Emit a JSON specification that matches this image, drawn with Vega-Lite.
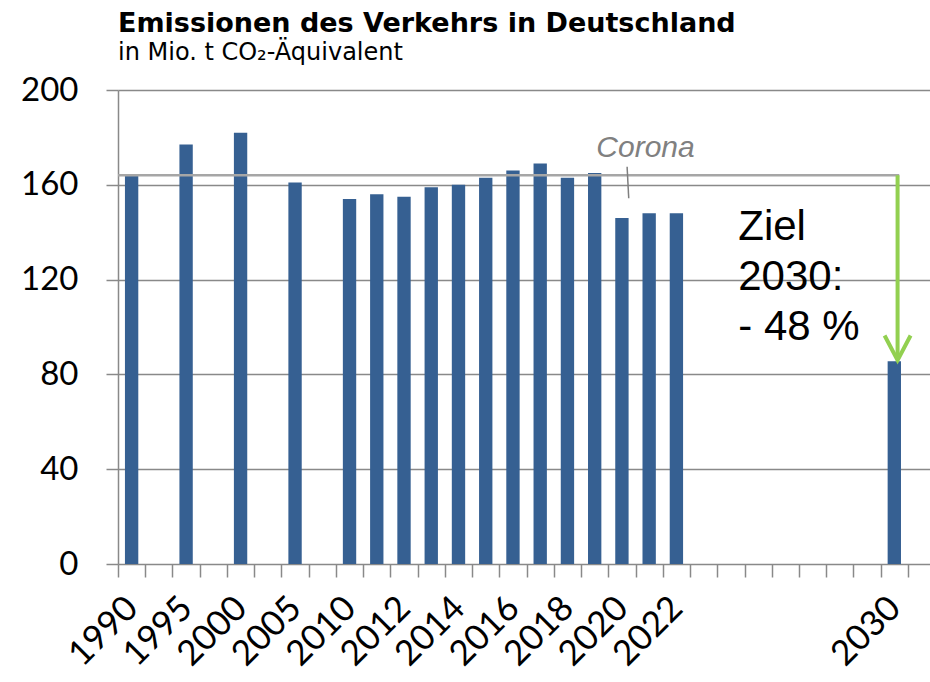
{
  "$schema": "https://vega.github.io/schema/vega-lite/v6.json",
  "width": 812,
  "height": 474,
  "autosize": "none",
  "padding": {"left": 118, "top": 90, "right": 0, "bottom": 118},
  "background": "white",
  "title": {
    "text": "Emissionen des Verkehrs in Deutschland",
    "subtitle": "in Mio. t CO₂-Äquivalent",
    "anchor": "start",
    "frame": "group",
    "font": "DejaVu Sans",
    "fontSize": 27,
    "fontWeight": "bold",
    "color": "black",
    "subtitleFont": "DejaVu Sans",
    "subtitleFontSize": 24,
    "subtitleColor": "black",
    "subtitlePadding": 3,
    "offset": 8
  },
  "config": {"view": {"stroke": null}},
  "data": {
    "values": [
      {"year": "1990", "value": 164},
      {"year": "1995", "value": 177},
      {"year": "2000", "value": 182},
      {"year": "2005", "value": 161},
      {"year": "2010", "value": 154},
      {"year": "2011", "value": 156},
      {"year": "2012", "value": 155},
      {"year": "2013", "value": 159},
      {"year": "2014", "value": 160},
      {"year": "2015", "value": 163},
      {"year": "2016", "value": 166},
      {"year": "2017", "value": 169},
      {"year": "2018", "value": 163},
      {"year": "2019", "value": 165},
      {"year": "2020", "value": 146},
      {"year": "2021", "value": 148},
      {"year": "2022", "value": 148},
      {"year": "2030", "value": 85.5}
    ]
  },
  "layer": [
    {
      "mark": {"type": "bar", "color": "#366092", "width": {"band": 0.49}},
      "encoding": {
        "x": {
          "field": "year",
          "type": "ordinal",
          "scale": {
            "domain": ["1990","1991","1995","1996","2000","2001","2005","2006","2010","2011","2012","2013","2014","2015","2016","2017","2018","2019","2020","2021","2022","2023","2024","2025","2026","2027","2028","2029","2030"],
            "paddingInner": 0,
            "paddingOuter": 0.405,
            "align": 0
          },
          "axis": {
            "title": null,
            "domain": false,
            "grid": false,
            "tickBand": "extent",
            "ticks": true,
            "tickSize": 13,
            "tickColor": "#898989",
            "tickWidth": 1.5,
            "labelAngle": -45,
            "labelAlign": "right",
            "labelBaseline": "middle",
            "labelPadding": 25,
            "labelFont": "Lato",
            "labelFontSize": 35,
            "labelColor": "black",
            "labelOverlap": false,
            "labelBound": false,
            "labelExpr": "indexof(['1990','1995','2000','2005','2010','2012','2014','2016','2018','2020','2022','2030'], datum.label) >= 0 ? datum.label : ''"
          }
        },
        "y": {
          "field": "value",
          "type": "quantitative",
          "scale": {"domain": [0, 200]},
          "axis": {
            "title": null,
            "values": [0, 40, 80, 120, 160, 200],
            "grid": true,
            "gridColor": "#898989",
            "gridWidth": 1.5,
            "domainColor": "#898989",
            "domainWidth": 1.5,
            "tickColor": "#898989",
            "tickWidth": 1.5,
            "tickSize": 12,
            "labelPadding": 28,
            "labelFont": "Lato",
            "labelFontSize": 33,
            "labelColor": "black"
          }
        }
      }
    },
    {
      "data": {"values": [{}]},
      "mark": {"type": "rule", "color": "#A6A6A6", "strokeWidth": 2.5},
      "encoding": {
        "x": {"datum": "1990", "type": "ordinal", "bandPosition": 0},
        "x2": {"datum": "2030", "bandPosition": 0.68},
        "y": {"datum": 164, "type": "quantitative"}
      }
    },
    {
      "data": {"values": [{}]},
      "mark": {"type": "rule", "color": "#92D050", "strokeWidth": 4},
      "encoding": {
        "x": {"datum": "2030", "type": "ordinal", "bandPosition": 0.62},
        "y": {"datum": 164, "type": "quantitative"},
        "y2": {"datum": 87}
      }
    },
    {
      "data": {"values": [{}]},
      "mark": {"type": "point", "shape": "M-1,-1.9L0,0L1,-1.9", "filled": false, "stroke": "#92D050", "strokeWidth": 4, "size": 676, "opacity": 1},
      "encoding": {
        "x": {"datum": "2030", "type": "ordinal", "bandPosition": 0.62},
        "y": {"datum": 86, "type": "quantitative"}
      }
    },
    {
      "data": {"values": [{}]},
      "mark": {"type": "rule", "color": "#7F7F7F", "strokeWidth": 1.5},
      "encoding": {
        "x": {"datum": "2020", "type": "ordinal", "bandPosition": 0.69},
        "x2": {"datum": "2020", "bandPosition": 0.75},
        "y": {"datum": 167.6, "type": "quantitative"},
        "y2": {"datum": 154.3}
      }
    },
    {
      "data": {"values": [{}]},
      "mark": {"type": "text", "text": "Corona", "font": "Liberation Sans", "fontSize": 30, "fontStyle": "italic", "color": "#808080", "align": "left", "baseline": "alphabetic"},
      "encoding": {
        "x": {"datum": "2019", "type": "ordinal", "bandPosition": 0.56},
        "y": {"datum": 171.9, "type": "quantitative"}
      }
    },
    {
      "data": {"values": [{}]},
      "mark": {"type": "text", "text": ["Ziel", "2030:", "- 48 %"], "font": "Liberation Sans", "fontSize": 42, "lineHeight": 50, "color": "black", "align": "left", "baseline": "alphabetic"},
      "encoding": {
        "x": {"datum": "2024", "type": "ordinal", "bandPosition": 0.77},
        "y": {"datum": 136.7, "type": "quantitative"}
      }
    }
  ]
}
